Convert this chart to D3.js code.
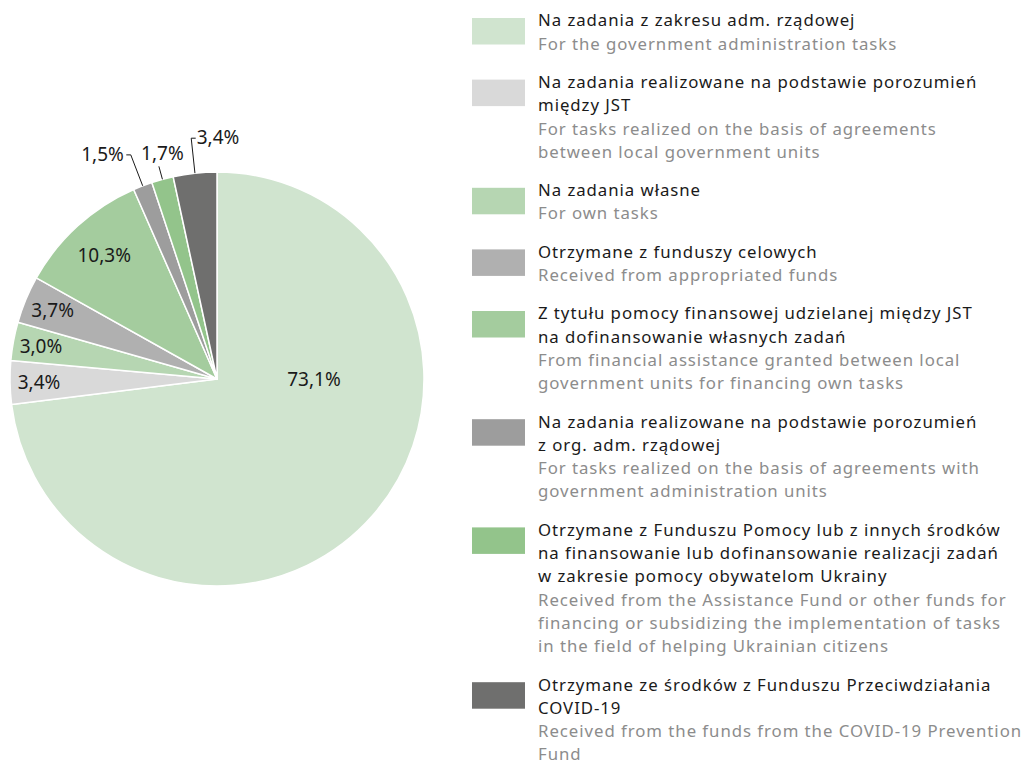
<!DOCTYPE html>
<html>
<head>
<meta charset="utf-8">
<script src="https://cdn.jsdelivr.net/npm/d3@7"></script>
<style>
  html, body { margin: 0; padding: 0; background: #ffffff; }
  svg { display: block; }
</style>
</head>
<body>
<svg id="chart" width="1027" height="766"></svg>
<script>
// Structure of revenue by source (shares in %)
const categoriesPl = [
  "Na zadania z zakresu adm. rządowej",
  "Na zadania realizowane na podstawie porozumień\nmiędzy JST",
  "Na zadania własne",
  "Otrzymane z funduszy celowych",
  "Z tytułu pomocy finansowej udzielanej między JST\nna dofinansowanie własnych zadań",
  "Na zadania realizowane na podstawie porozumień\nz org. adm. rządowej",
  "Otrzymane z Funduszu Pomocy lub z innych środków\nna finansowanie lub dofinansowanie realizacji zadań\nw zakresie pomocy obywatelom Ukrainy",
  "Otrzymane ze środków z Funduszu Przeciwdziałania\nCOVID-19"
];
const categoriesEn = [
  "For the government administration tasks",
  "For tasks realized on the basis of agreements\nbetween local government units",
  "For own tasks",
  "Received from appropriated funds",
  "From financial assistance granted between local\ngovernment units for financing own tasks",
  "For tasks realized on the basis of agreements with\ngovernment administration units",
  "Received from the Assistance Fund or other funds for\nfinancing or subsidizing the implementation of tasks\nin the field of helping Ukrainian citizens",
  "Received from the funds from the COVID-19 Prevention\nFund"
];
const shares = [73.1, 3.4, 3.0, 3.7, 10.3, 1.5, 1.7, 3.4];

const sliceColors = ["#d0e4cf", "#d9d9d9", "#b6d6b2", "#b0b0b0", "#a4cc9e", "#9d9d9d", "#93c48b", "#6f6f6e"];

const svg = d3.select("#chart");
const FONT = "'Noto Sans', 'Open Sans', sans-serif";
const LABEL_SIZE = 19;
const LEGEND_SIZE = 16.8;
const LEGEND_SPACING = 0.95;
const plFormat = d3.formatLocale({ decimal: ",", thousands: " ", grouping: [3], currency: ["", " zł"] }).format(".1f");

// ---------- pie ----------
const cx = 217, cy = 379, R = 207;
const g = svg.append("g").attr("transform", `translate(${cx},${cy})`);

const pie = d3.pie().sort(null).value(d => d).startAngle(0).endAngle(2 * Math.PI);
const arcs = pie(shares);
const arc = d3.arc().innerRadius(0).outerRadius(R);

g.selectAll("path.slice")
  .data(arcs)
  .enter().append("path")
  .attr("class", "slice")
  .attr("d", arc)
  .attr("fill", (d, i) => sliceColors[i])
  .attr("stroke", "#ffffff")
  .attr("stroke-width", 1.5)
  .attr("stroke-linejoin", "round");

const polar = (angle, r) => [Math.sin(angle) * r, -Math.cos(angle) * r];
const midAngle = d => (d.startAngle + d.endAngle) / 2;

// labels inside the larger slices
const insideRadius = [null, 0.86, 0.865, 0.86, 0.81];
arcs.forEach((d, i) => {
  if (i > 4) return;
  let p;
  if (i === 0) p = polar(Math.PI / 2, 97);
  else p = polar(midAngle(d), R * insideRadius[i]);
  g.append("text")
    .attr("x", p[0]).attr("y", p[1])
    .attr("dy", "0.35em")
    .attr("text-anchor", "middle")
    .attr("font-family", FONT)
    .attr("font-size", LABEL_SIZE)
    .attr("fill", "#1a1a1a")
    .text(plFormat(shares[i]) + "%");
});

// callout labels for the thin slices
const callouts = { 5: { r: 1.16, side: -1 }, 6: { r: 1.065, side: 0 }, 7: { r: 1.17, side: 1 } };
arcs.forEach((d, i) => {
  const c = callouts[i];
  if (!c) return;
  const a = midAngle(d);
  const p0 = polar(a, R);
  const p1 = polar(a, R * c.r);
  const pts = [p0, p1];
  if (c.side !== 0) pts.push([p1[0] + c.side * 4.5, p1[1]]);
  g.append("path")
    .attr("d", d3.line()(pts))
    .attr("fill", "none")
    .attr("stroke", "#1a1a1a")
    .attr("stroke-width", 1);
  const t = g.append("text")
    .attr("font-family", FONT)
    .attr("font-size", LABEL_SIZE)
    .attr("fill", "#1a1a1a")
    .text(plFormat(shares[i]) + "%");
  if (c.side === -1) {
    t.attr("x", p1[0] - 7).attr("y", p1[1] - 1).attr("dy", "0.35em").attr("text-anchor", "end");
  } else if (c.side === 1) {
    t.attr("x", p1[0] + 5.5).attr("y", p1[1] - 0.5).attr("dy", "0.35em").attr("text-anchor", "start");
  } else {
    t.attr("x", p1[0] + 3.5).attr("y", p1[1] - 13.5).attr("dy", "0.35em").attr("text-anchor", "middle");
  }
});

// ---------- legend ----------
const lx = 472, tx = 538, lineH = 23.3, itemGap = 15;
const legend = svg.append("g");
let y = 20.5;
categoriesPl.forEach((pl, i) => {
  const plLines = pl.split("\n");
  const enLines = categoriesEn[i].split("\n");
  legend.append("rect")
    .attr("x", lx).attr("y", y - 2.5)
    .attr("width", 53).attr("height", 26.5)
    .attr("fill", sliceColors[i]);
  plLines.forEach((s, k) => {
    legend.append("text")
      .attr("x", tx).attr("y", y + k * lineH).attr("dy", "0.35em")
      .attr("font-family", FONT).attr("font-size", LEGEND_SIZE)
      .attr("letter-spacing", LEGEND_SPACING)
      .attr("fill", "#1a1a1a").text(s);
  });
  enLines.forEach((s, k) => {
    legend.append("text")
      .attr("x", tx).attr("y", y + (plLines.length + k) * lineH).attr("dy", "0.35em")
      .attr("font-family", FONT).attr("font-size", LEGEND_SIZE)
      .attr("letter-spacing", LEGEND_SPACING)
      .attr("fill", "#8c8c8c").text(s);
  });
  y += (plLines.length + enLines.length) * lineH + itemGap;
});
</script>
</body>
</html>
